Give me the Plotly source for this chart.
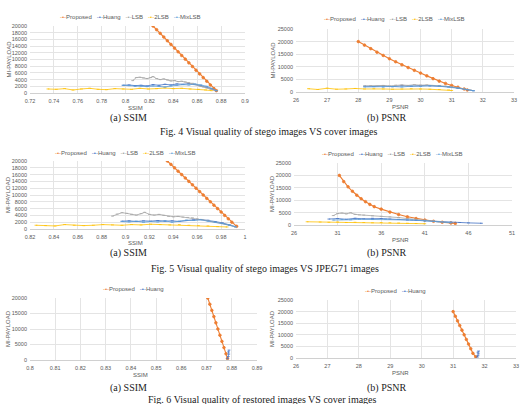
import plotly.graph_objects as go

W, H = 521, 404

# ---------------- data ----------------
# Fig.4 (a) cover images, SSIM
c_ssim_prop_x = [0.823, 0.826, 0.829, 0.832, 0.835, 0.838, 0.841, 0.844, 0.847, 0.850, 0.853, 0.856, 0.859, 0.862, 0.865, 0.868, 0.871, 0.874, 0.876]
c_ssim_prop_y = [20000, 18900, 17800, 16700, 15600, 14500, 13400, 12300, 11200, 10100, 9000, 7900, 6800, 5700, 4600, 3500, 2400, 1300, 700]
c_ssim_lsb_x = [0.806, 0.809, 0.812, 0.815, 0.818, 0.821, 0.823, 0.826, 0.829, 0.832, 0.835, 0.838, 0.841, 0.844, 0.847, 0.850, 0.853, 0.856, 0.859, 0.862, 0.865, 0.868, 0.871, 0.874, 0.876]
c_ssim_lsb_y = [3700, 4600, 4700, 4500, 4300, 4600, 4900, 4300, 4000, 4200, 3900, 3600, 3700, 3400, 3500, 3300, 3100, 2900, 2500, 2100, 1800, 1500, 1200, 900, 700]
c_ssim_huang_x = [0.798, 0.803, 0.808, 0.813, 0.818, 0.823, 0.828, 0.833, 0.838, 0.843, 0.848, 0.853, 0.858, 0.863, 0.868, 0.872, 0.876]
c_ssim_huang_y = [2300, 2400, 2200, 2300, 2100, 2500, 2300, 2600, 2400, 2700, 2600, 2800, 2500, 2200, 1700, 1200, 700]
c_ssim_mix_x = [0.798, 0.803, 0.808, 0.813, 0.818, 0.823, 0.828, 0.833, 0.838, 0.843, 0.848, 0.853, 0.858, 0.863, 0.868, 0.872, 0.876]
c_ssim_mix_y = [2300, 2200, 2000, 2100, 1900, 2100, 2000, 1800, 2100, 2300, 2500, 2400, 2700, 2400, 2000, 1400, 700]
c_ssim_2lsb_x = [0.735, 0.742, 0.749, 0.756, 0.763, 0.770, 0.777, 0.784, 0.791, 0.798, 0.805, 0.812, 0.819, 0.826, 0.833, 0.840, 0.847, 0.854, 0.861, 0.867, 0.872]
c_ssim_2lsb_y = [1200, 1100, 1300, 900, 1200, 1400, 1100, 1000, 1300, 1200, 1100, 1400, 1200, 1300, 1500, 1300, 1400, 1200, 1100, 900, 700]

# Fig.4 (b) cover images, PSNR
c_psnr_prop_x = [28.0, 28.2, 28.4, 28.6, 28.8, 29.0, 29.2, 29.4, 29.6, 29.8, 30.0, 30.2, 30.4, 30.6, 30.8, 31.0, 31.2, 31.4, 31.5]
c_psnr_prop_y = [20000, 18600, 17200, 15800, 14500, 13200, 12000, 10800, 9700, 8600, 7500, 6400, 5300, 4300, 3400, 2600, 1900, 1200, 800]
c_psnr_lsb_x = [28.2, 28.4, 28.6, 28.8, 29.0, 29.2, 29.4, 29.6, 29.8, 30.0, 30.2, 30.4, 30.6, 30.8, 31.0, 31.2, 31.4, 31.6]
c_psnr_lsb_y = [2400, 2500, 2300, 2600, 2400, 2700, 2800, 2600, 2900, 2700, 2800, 2600, 2500, 2300, 2000, 1600, 1200, 800]
c_psnr_huang_x = [28.2, 28.5, 28.8, 29.1, 29.4, 29.7, 30.0, 30.3, 30.6, 30.9, 31.2, 31.5, 31.7]
c_psnr_huang_y = [2300, 2200, 2400, 2100, 2500, 2300, 2600, 2400, 2500, 2100, 1600, 1000, 500]
c_psnr_mix_x = [28.2, 28.5, 28.8, 29.1, 29.4, 29.7, 30.0, 30.3, 30.6, 30.9, 31.2, 31.5, 31.7]
c_psnr_mix_y = [2000, 2100, 1900, 2200, 2000, 2300, 2200, 2500, 2300, 2000, 1500, 900, 500]
c_psnr_2lsb_x = [26.4, 26.7, 27.0, 27.3, 27.6, 27.9, 28.2, 28.5, 28.8, 29.1, 29.4, 29.7, 30.0, 30.3, 30.6, 30.9, 31.0]
c_psnr_2lsb_y = [1300, 1000, 1500, 1100, 1200, 1400, 1200, 1300, 1200, 1100, 1200, 1300, 1200, 1100, 1000, 800, 600]

# Fig.5 (a) JPEG71, SSIM
j_ssim_prop_x = [0.935, 0.938, 0.941, 0.944, 0.947, 0.950, 0.953, 0.956, 0.959, 0.962, 0.965, 0.968, 0.971, 0.974, 0.977, 0.980, 0.983, 0.986, 0.989, 0.993]
j_ssim_prop_y = [20000, 19000, 18000, 17000, 16000, 15000, 14000, 13000, 12000, 11000, 10000, 9000, 8000, 7000, 6000, 5000, 4000, 3000, 2000, 800]
j_ssim_lsb_x = [0.889, 0.893, 0.897, 0.901, 0.905, 0.909, 0.913, 0.916, 0.920, 0.924, 0.928, 0.932, 0.936, 0.940, 0.944, 0.948, 0.952, 0.956, 0.960, 0.964, 0.968, 0.972, 0.976, 0.980, 0.984, 0.988, 0.992]
j_ssim_lsb_y = [3800, 4400, 4800, 4600, 4300, 4100, 4500, 4900, 4300, 4100, 4300, 4000, 3700, 3600, 3700, 3500, 3400, 3300, 3000, 2800, 2500, 2200, 1900, 1700, 1400, 1100, 700]
j_ssim_huang_x = [0.897, 0.903, 0.909, 0.915, 0.921, 0.927, 0.933, 0.939, 0.945, 0.951, 0.957, 0.963, 0.969, 0.975, 0.981, 0.987, 0.992]
j_ssim_huang_y = [2300, 2400, 2200, 2400, 2300, 2500, 2300, 2400, 2200, 2500, 2700, 2800, 2600, 2200, 1800, 1200, 700]
j_ssim_mix_x = [0.897, 0.903, 0.909, 0.915, 0.921, 0.927, 0.933, 0.939, 0.945, 0.951, 0.957, 0.963, 0.969, 0.975, 0.981, 0.987, 0.992]
j_ssim_mix_y = [2200, 2100, 2300, 2000, 2200, 2100, 2400, 2000, 2300, 2600, 2500, 2700, 2300, 2000, 1600, 1100, 600]
j_ssim_2lsb_x = [0.825, 0.833, 0.841, 0.849, 0.857, 0.865, 0.873, 0.881, 0.889, 0.897, 0.905, 0.913, 0.921, 0.929, 0.937, 0.945, 0.953, 0.961, 0.969, 0.977, 0.985]
j_ssim_2lsb_y = [1100, 1000, 900, 1300, 1100, 1000, 1100, 1300, 1200, 1100, 1300, 1200, 1400, 1300, 1200, 1300, 1100, 1000, 900, 700, 600]

# Fig.5 (b) JPEG71, PSNR
j_psnr_prop_x = [31.2, 31.7, 32.2, 32.7, 33.2, 33.7, 34.2, 34.7, 35.2, 36.0, 37.0, 38.0, 39.0, 40.0, 41.0, 42.0, 43.0, 44.0, 44.5]
j_psnr_prop_y = [20000, 17500, 15400, 13600, 12000, 10600, 9400, 8300, 7400, 6400, 5200, 4200, 3300, 2600, 2000, 1500, 1100, 800, 650]
j_psnr_lsb_x = [30.5, 31.0, 31.5, 32.0, 32.5, 33.0, 33.5, 34.0, 35.0, 36.0, 37.0, 38.0, 39.0, 40.0, 41.0, 42.0, 43.0, 44.0]
j_psnr_lsb_y = [3800, 4600, 4800, 4500, 4900, 4300, 4100, 4000, 3700, 3500, 3300, 3000, 2600, 2300, 2000, 1700, 1300, 900]
j_psnr_huang_x = [30.0, 31.0, 32.0, 33.0, 34.0, 35.0, 36.0, 37.0, 38.0, 39.0, 40.0, 41.0, 42.0, 43.0, 44.0, 45.0, 46.0, 47.5]
j_psnr_huang_y = [2400, 2600, 2300, 2700, 2500, 2700, 2600, 2400, 2200, 2000, 1900, 1700, 1500, 1300, 1100, 1000, 850, 700]
j_psnr_mix_x = [30.5, 31.5, 32.5, 33.5, 35.0, 36.5, 38.0, 39.5, 41.0, 42.5, 44.0]
j_psnr_mix_y = [2000, 2200, 2100, 2300, 2200, 2400, 2300, 2000, 1700, 1300, 900]
j_psnr_2lsb_x = [27.5, 29.0, 30.0, 31.0, 32.0, 33.0, 34.0, 35.0, 36.0, 37.0, 38.0, 39.0, 40.0, 41.0]
j_psnr_2lsb_y = [1300, 1200, 1100, 1200, 1000, 1100, 1000, 900, 1000, 900, 800, 700, 600, 500]

# Fig.6 (a) restored images, SSIM
r_ssim_prop_x = [0.8705, 0.8713, 0.8721, 0.8729, 0.8737, 0.8745, 0.8753, 0.8761, 0.8769, 0.8777, 0.8783]
r_ssim_prop_y = [20000, 18000, 16000, 14000, 12000, 10000, 8000, 6000, 4000, 2000, 500]
r_ssim_huang_x = [0.8783, 0.8786, 0.8788, 0.8787, 0.8789]
r_ssim_huang_y = [400, 1100, 1900, 2600, 3200]

# Fig.6 (b) restored images, PSNR
r_psnr_prop_x = [31.00, 31.07, 31.14, 31.21, 31.28, 31.35, 31.42, 31.49, 31.56, 31.63, 31.72]
r_psnr_prop_y = [20000, 18000, 16000, 14000, 12000, 10000, 8000, 6000, 4000, 2000, 500]
r_psnr_huang_x = [31.77, 31.79, 31.80, 31.79, 31.81]
r_psnr_huang_y = [400, 1000, 1800, 2500, 3000]

series_names = ["Proposed", "Huang", "LSB", "2LSB", "MixLSB"]
colors = {"Proposed": "#ED7D31", "Huang": "#4472C4", "LSB": "#A5A5A5",
          "2LSB": "#FFC000", "MixLSB": "#5B9BD5"}

panels = [
    {"series": {"Proposed": (c_ssim_prop_x, c_ssim_prop_y), "Huang": (c_ssim_huang_x, c_ssim_huang_y),
                "LSB": (c_ssim_lsb_x, c_ssim_lsb_y), "2LSB": (c_ssim_2lsb_x, c_ssim_2lsb_y),
                "MixLSB": (c_ssim_mix_x, c_ssim_mix_y)},
     "box": (30, 245, 26, 93), "xr": [0.72, 0.9], "xd": 0.02, "yr": [0, 20000], "yd": 2000,
     "xt": "SSIM", "xtpos": (135, 108), "ytx": 8, "leg": (130, 17)},
    {"series": {"Proposed": (c_psnr_prop_x, c_psnr_prop_y), "Huang": (c_psnr_huang_x, c_psnr_huang_y),
                "LSB": (c_psnr_lsb_x, c_psnr_lsb_y), "2LSB": (c_psnr_2lsb_x, c_psnr_2lsb_y),
                "MixLSB": (c_psnr_mix_x, c_psnr_mix_y)},
     "box": (296, 514, 29, 92), "xr": [26, 33], "xd": 1, "yr": [0, 25000], "yd": 5000,
     "xt": "PSNR", "xtpos": (400, 107), "ytx": 272, "leg": (394, 19)},
    {"series": {"Proposed": (j_ssim_prop_x, j_ssim_prop_y), "Huang": (j_ssim_huang_x, j_ssim_huang_y),
                "LSB": (j_ssim_lsb_x, j_ssim_lsb_y), "2LSB": (j_ssim_2lsb_x, j_ssim_2lsb_y),
                "MixLSB": (j_ssim_mix_x, j_ssim_mix_y)},
     "box": (30, 245, 161, 229), "xr": [0.82, 1.0], "xd": 0.02, "yr": [0, 20000], "yd": 2000,
     "xt": "SSIM", "xtpos": (135, 243), "ytx": 8, "leg": (125, 153)},
    {"series": {"Proposed": (j_psnr_prop_x, j_psnr_prop_y), "Huang": (j_psnr_huang_x, j_psnr_huang_y),
                "LSB": (j_psnr_lsb_x, j_psnr_lsb_y), "2LSB": (j_psnr_2lsb_x, j_psnr_2lsb_y),
                "MixLSB": (j_psnr_mix_x, j_psnr_mix_y)},
     "box": (294, 512, 163, 225), "xr": [26, 51], "xd": 5, "yr": [0, 25000], "yd": 5000,
     "xt": "PSNR", "xtpos": (400, 240), "ytx": 272, "leg": (392, 154)},
    {"series": {"Proposed": (r_ssim_prop_x, r_ssim_prop_y), "Huang": (r_ssim_huang_x, r_ssim_huang_y)},
     "box": (30, 257, 298, 360), "xr": [0.8, 0.89], "xd": 0.01, "yr": [0, 20000], "yd": 5000,
     "xt": "SSIM", "xtpos": (140, 375), "ytx": 8, "leg": (133, 289)},
    {"series": {"Proposed": (r_psnr_prop_x, r_psnr_prop_y), "Huang": (r_psnr_huang_x, r_psnr_huang_y)},
     "box": (296, 516, 300, 358), "xr": [26, 33], "xd": 1, "yr": [0, 25000], "yd": 5000,
     "xt": "PSNR", "xtpos": (400, 373), "ytx": 272, "leg": (395, 291)},
]

captions = [
    ("(a) SSIM", 128, 118), ("(b) PSNR", 387, 118),
    ("Fig. 4 Visual quality of stego images VS cover images", 268, 131),
    ("(a) SSIM", 128, 253), ("(b) PSNR", 387, 253),
    ("Fig. 5 Visual quality of stego images VS JPEG71 images", 265, 268),
    ("(a) SSIM", 128, 388), ("(b) PSNR", 387, 388),
    ("Fig. 6 Visual quality of restored images VS cover images", 262, 399),
]

def fx(p):
    return p / W

def fy(p):
    return 1 - p / H

TICKFONT = dict(family="Liberation Sans", size=5.5, color="#595959")
SMALLFONT = dict(family="Liberation Sans", size=6, color="#595959")

def note(text, px, py, font, angle=0):
    return dict(text=text, x=fx(px), y=fy(py), xref="paper", yref="paper",
                xanchor="center", yanchor="middle", showarrow=False,
                textangle=angle, font=font)

fig = go.Figure()
annotations = []
for i, pn in enumerate(panels, start=1):
    xa = "x" if i == 1 else f"x{i}"
    ya = "y" if i == 1 else f"y{i}"
    x0, x1, yt, yb = pn["box"]
    for name in series_names:
        if name not in pn["series"]:
            continue
        xs, ys = pn["series"][name]
        is_prop = name == "Proposed"
        fig.add_trace(go.Scatter(
            x=xs, y=ys, xaxis=xa, yaxis=ya, mode="lines+markers", name=name,
            showlegend=False,
            line=dict(color=colors[name], width=1.1 if is_prop else 0.8),
            marker=dict(color=colors[name], size=2.6 if is_prop else 2.0,
                        symbol="circle" if is_prop else "line-ew-open",
                        line=dict(color=colors[name], width=0.8)),
        ))
    xkey = "xaxis" if i == 1 else f"xaxis{i}"
    ykey = "yaxis" if i == 1 else f"yaxis{i}"
    fig.layout[xkey] = dict(
        domain=[fx(x0), fx(x1)], anchor=ya, range=pn["xr"], dtick=pn["xd"], tick0=pn["xr"][0],
        showgrid=True, gridcolor="#E4E4E4", gridwidth=0.6, zeroline=False,
        showline=True, linecolor="#D0D0D0", linewidth=0.8, ticks="",
        tickfont=TICKFONT, ticklabelstandoff=2, automargin=False,
    )
    fig.layout[ykey] = dict(
        domain=[fy(yb), fy(yt)], anchor=xa, range=pn["yr"], dtick=pn["yd"], tick0=0,
        showgrid=True, gridcolor="#E4E4E4", gridwidth=0.6, zeroline=False,
        showline=False, ticks="", tickformat="d",
        tickfont=TICKFONT, ticklabelstandoff=2, automargin=False,
    )
    tx, ty = pn["xtpos"]
    annotations.append(note(pn["xt"], tx, ty, SMALLFONT))
    annotations.append(note("MI-PAYLOAD", pn["ytx"], (yt + yb) / 2, SMALLFONT, angle=-90))
    parts = []
    for name in series_names:
        if name in pn["series"]:
            parts.append(f"<span style='color:{colors[name]}'>-•-</span>{name}")
    lx, ly = pn["leg"]
    annotations.append(note("   ".join(parts), lx, ly, SMALLFONT))

for text, cx, cy in captions:
    annotations.append(note(text, cx, cy, dict(family="Liberation Serif", size=10, color="#222222")))

fig.update_layout(
    width=W, height=H, margin=dict(l=0, r=0, t=0, b=0),
    paper_bgcolor="white", plot_bgcolor="white",
    annotations=annotations, showlegend=False,
)

fig.write_html("out.html", config={"displayModeBar": False})
